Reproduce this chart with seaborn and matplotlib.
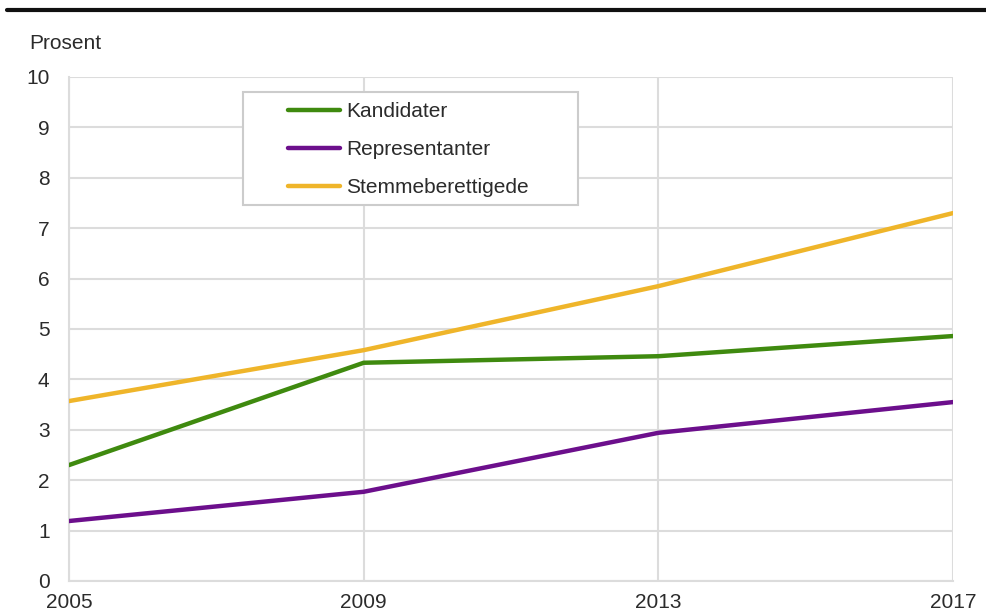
import matplotlib
matplotlib.use("Agg")
import matplotlib.pyplot as plt
import seaborn as sns
import pandas as pd
from matplotlib.lines import Line2D
from matplotlib.patches import Rectangle

years = [2005, 2009, 2013, 2017]
kandidater = [2.30, 4.33, 4.46, 4.86]
representanter = [1.19, 1.77, 2.94, 3.55]
stemmeberettigede = [3.57, 4.58, 5.85, 7.30]
series_names = ["Kandidater", "Representanter", "Stemmeberettigede"]
colors = ["#3f8a0f", "#6c0f8c", "#efb52a"]

sns.set_style("white")
plt.rcParams["font.family"] = ["Liberation Sans", "DejaVu Sans"]

df = pd.DataFrame({
    "year": years * 3,
    "value": kandidater + representanter + stemmeberettigede,
    "serie": [n for n in series_names for _ in years],
})

fig = plt.figure(figsize=(9.87, 6.15), dpi=100)
ax = fig.add_axes([0.0699, 0.0553, 0.8957, 0.8195])

sns.lineplot(data=df, x="year", y="value", hue="serie", hue_order=series_names,
             palette=colors, linewidth=3.2, ax=ax, legend=False, zorder=3)

ax.set_xlim(2005, 2017)
ax.set_ylim(0, 10)
ax.set_xticks(years)
ax.set_yticks(range(0, 11))
ax.grid(True, color="#dcdcdc", linewidth=1.5, zorder=0)
for side in ["top", "right"]:
    ax.spines[side].set_visible(False)
for side in ["left", "bottom"]:
    ax.spines[side].set_color("#dcdcdc")
    ax.spines[side].set_linewidth(1.5)
ax.tick_params(axis="both", length=0, labelsize=15, labelcolor="#2b2b2b")
ax.tick_params(axis="y", pad=14)
ax.tick_params(axis="x", pad=9)
ax.set_xlabel("")
ax.set_ylabel("")

# legend frame drawn separately so the entries can sit inset from its left edge
ax.add_patch(Rectangle((0.1968, 0.746), 0.379, 0.224, transform=ax.transAxes,
                       facecolor="white", edgecolor="#cccccc", linewidth=1.5,
                       zorder=4, clip_on=False))
handles = [Line2D([0], [0], color=c, linewidth=3.2) for c in colors]
leg = ax.legend(handles, series_names, loc="upper left",
                bbox_to_anchor=(0.2477, 0.950), fontsize=15, frameon=False,
                handlelength=2.5, handletextpad=0.3, borderpad=0,
                labelspacing=0.91, borderaxespad=0)
leg.set_zorder(5)
for t in leg.get_texts():
    t.set_color("#2b2b2b")

fig.text(0.030, 0.930, "Prosent", fontsize=15, color="#2b2b2b", va="center")
fig.add_artist(Line2D([0.007, 1.0], [0.984, 0.984], color="#111111",
                      linewidth=3, transform=fig.transFigure))

fig.savefig("out.png", dpi=100)
